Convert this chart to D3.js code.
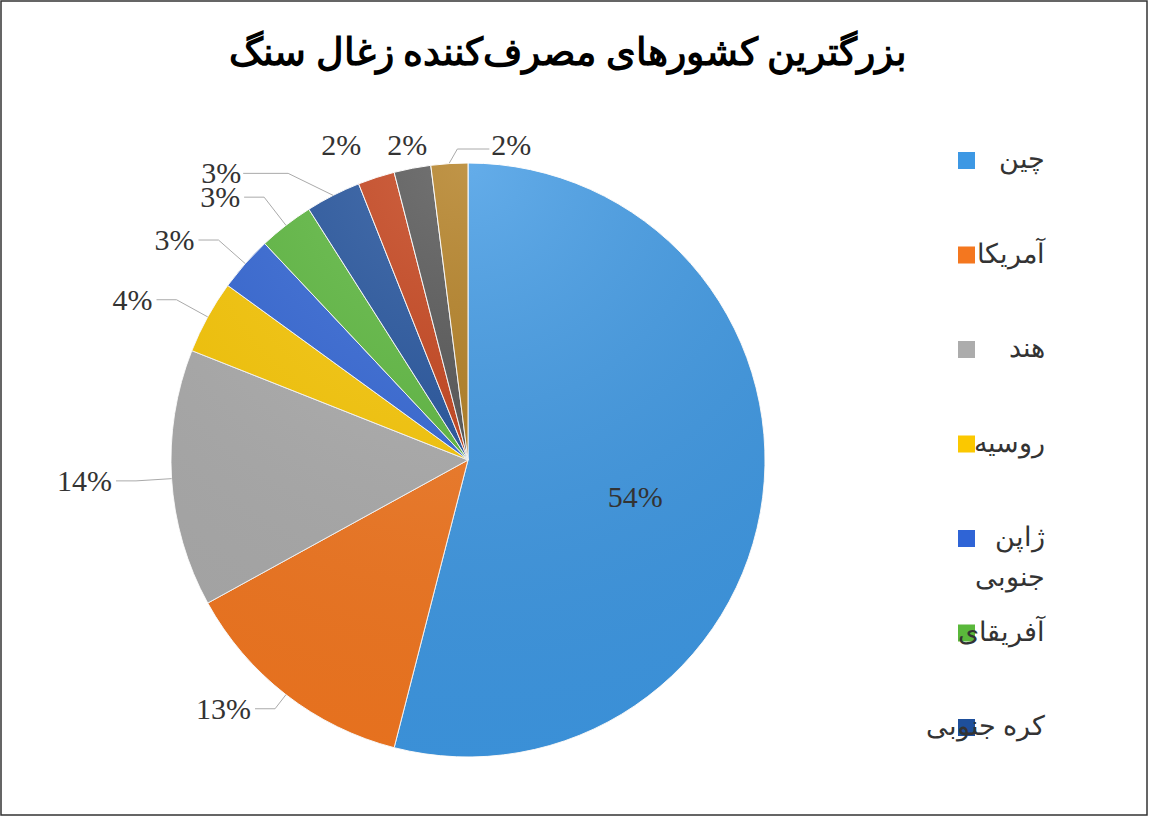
<!DOCTYPE html>
<html><head><meta charset="utf-8">
<script src="https://cdn.jsdelivr.net/npm/d3@7"></script>
<style>body{margin:0;background:#fff}</style></head>
<body><svg id="c" width="1150" height="818"></svg>
<script>
const countries = ["چین","آمریکا","هند","روسیه","ژاپن","آفریقای|جنوبی","کره جنوبی","آلمان","لهستان","اندونزی"];
const shares = [54,13,14,4,3,3,3,2,2,2];
const colors = ["#3d98e4","#f4771f","#acacac","#fbc800","#2f64d6","#5ab83b","#1e4f9b","#c43d14","#505050","#b07a1a"];
const legendCount = 7;

const svg = d3.select("#c");
svg.append("rect").attr("x",1).attr("y",1).attr("width",1146).attr("height",814).attr("fill","#fff").attr("stroke","#333").attr("stroke-width",1.5);
svg.append("text").attr("x",568).attr("y",65).attr("text-anchor","middle").attr("font-family","Liberation Serif, serif").attr("font-weight","bold").attr("font-size",38).text("بزرگترین کشورهای مصرف‌کننده زغال سنگ");

const cx=468, cy=460, r=297;
const defs = svg.append("defs");
const g = defs.append("radialGradient").attr("id","shade").attr("cx","50%").attr("cy","0%").attr("r","110%");
g.append("stop").attr("offset","0%").attr("stop-color","#fff").attr("stop-opacity",0.2);
g.append("stop").attr("offset","100%").attr("stop-color","#000").attr("stop-opacity",0.05);

const pie = d3.pie().sort(null).value(d=>d)(shares);
const arc = d3.arc().innerRadius(0).outerRadius(r);
const pg = svg.append("g").attr("transform",`translate(${cx},${cy})`);
pg.selectAll("path.s").data(pie).join("path").attr("class","s").attr("d",arc).attr("fill",(d,i)=>colors[i]).attr("stroke","#fff").attr("stroke-width",1);
pg.append("circle").attr("r",r).attr("fill","url(#shade)").attr("pointer-events","none");

const font="Liberation Serif, serif";
function lab(x,y,anchor,t){pg.append("text").attr("x",x).attr("y",y).attr("text-anchor",anchor).attr("font-family",font).attr("font-size",30).attr("fill","#333").text(t);}
function line(pts){pg.append("polyline").attr("points",pts.map(p=>p.join(",")).join(" ")).attr("fill","none").attr("stroke","#aaa").attr("stroke-width",1);}
pie.forEach((d,i)=>{
  const a=(d.startAngle+d.endAngle)/2;
  const t=shares[i]+"%";
  if(i===0){ const c=arc.centroid(d); lab(c[0]+20,c[1]+28,"middle",t); return; }
  const sx=Math.sin(a)*r, sy=-Math.cos(a)*r;
  const top=-r-4;
  if(i===7||i===8){ lab(sx-(i===7?35:5),top-4,"middle",t); return; }
  if(i===9){ line([[sx,-r],[sx+8,top-10],[sx+40,top-10]]); lab(sx+42,top-4,"start",t); return; }
  if(i===6){ line([[sx,sy],[sx-45,sy-22],[sx-90,sy-22]]); lab(sx-92,sy-12,"end",t); return; }
  let k=1.12; if(i===1) k=1.06;
  const lx=Math.sin(a)*r*k, ly=-Math.cos(a)*r*k;
  const ex=lx-20;
  line([[sx,sy],[lx,ly],[ex,ly]]);
  lab(ex-4,ly+10,"end",t);
});

const lg = svg.append("g");
countries.slice(0,legendCount).forEach((n,i)=>{
  const y=160+i*94.5;
  lg.append("rect").attr("x",958).attr("y",y-8).attr("width",17).attr("height",17).attr("fill",colors[i]);
  const parts=n.split("|");
  parts.forEach((p,j)=>{
    lg.append("text").attr("x",1045).attr("y",y+8-(parts.length-1-j)*0+ (j===1? -55:0)).attr("text-anchor","end").attr("font-family",font).attr("font-size",27).attr("fill","#333").text(p);
  });
});
</script></body></html>
